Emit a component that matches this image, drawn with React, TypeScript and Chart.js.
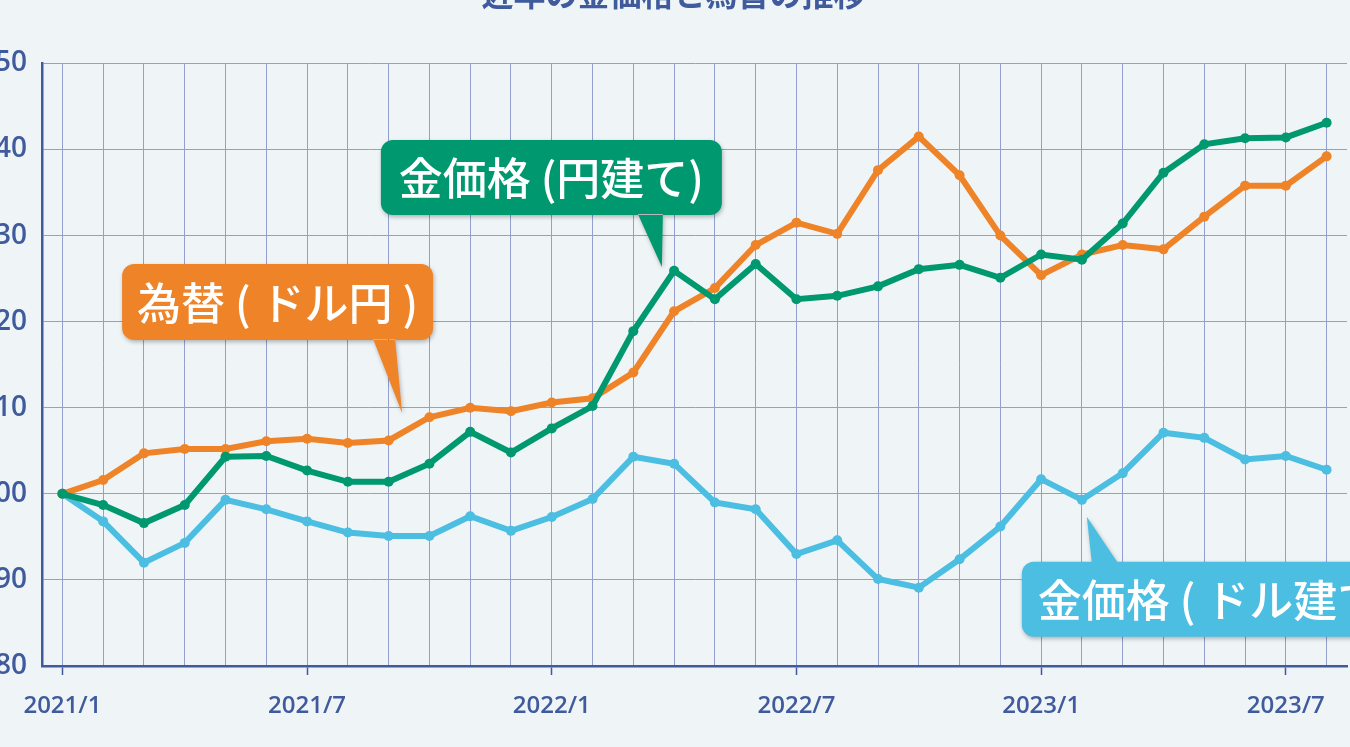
import { useEffect, useRef } from "react";
import { Chart, registerables } from "chart.js";

Chart.register(...registerables);

const months = [
  "2021/1", "2021/2", "2021/3", "2021/4", "2021/5", "2021/6", "2021/7", "2021/8",
  "2021/9", "2021/10", "2021/11", "2021/12", "2022/1", "2022/2", "2022/3", "2022/4",
  "2022/5", "2022/6", "2022/7", "2022/8", "2022/9", "2022/10", "2022/11", "2022/12",
  "2023/1", "2023/2", "2023/3", "2023/4", "2023/5", "2023/6", "2023/7", "2023/8",
];

const xTickLabels = ["2021/1", "2021/7", "2022/1", "2022/7", "2023/1", "2023/7"];
const yTicks = [80, 90, 100, 110, 120, 130, 140, 150];

// 金価格（円建て）
const goldYen = [
  100, 98.7, 96.6, 98.7, 104.3, 104.4, 102.7, 101.4, 101.4, 103.5, 107.2, 104.8,
  107.6, 110.2, 118.9, 125.9, 122.6, 126.7, 122.6, 123.0, 124.1, 126.1, 126.6, 125.1,
  127.8, 127.2, 131.4, 137.3, 140.6, 141.3, 141.4, 143.1,
];

// 為替（ドル円）
const usdJpy = [
  100, 101.6, 104.7, 105.2, 105.2, 106.1, 106.4, 105.9, 106.2, 108.9, 110.0, 109.6,
  110.6, 111.1, 114.1, 121.2, 123.9, 128.9, 131.5, 130.2, 137.6, 141.5, 137.0, 130.0,
  125.4, 127.8, 128.9, 128.4, 132.2, 135.8, 135.8, 139.2,
];

// 金価格（ドル建て）
const goldUsd = [
  100, 96.8, 92.0, 94.3, 99.3, 98.2, 96.8, 95.5, 95.1, 95.1, 97.4, 95.7,
  97.3, 99.4, 104.3, 103.5, 99.0, 98.2, 93.0, 94.6, 90.1, 89.1, 92.4, 96.2,
  101.7, 99.3, 102.4, 107.1, 106.5, 104.0, 104.4, 102.8,
];

const GREEN = "#00986f";
const ORANGE = "#ef8328";
const BLUE = "#4bbee1";
const NAVY = "#3f5a9d";
const GRID = "#939fcd";
const BG = "#eff4f7";

// callouts: tip anchored to (index, value), box offsets in px from the tip
const callouts = [
  {
    text: "為替 ( ドル円 )", color: ORANGE, idx: 8.33, val: 109.4,
    box: [-280, -149, 31, -73], tail: [-29, -7], align: "center",
  },
  {
    text: "金価格 (円建て)", color: GREEN, idx: 14.7, val: 126.35,
    box: [-281, -127, 60, -52], tail: [-24, 1], align: "center",
  },
  {
    text: "金価格 ( ドル建て )", color: BLUE, idx: 25.12, val: 97.33,
    box: [-65, 45, 360, 120], tail: [5, 31], align: "left",
  },
];

const calloutPlugin = {
  id: "callouts",
  afterDatasetsDraw(chart: any) {
    const { ctx, scales } = chart;
    callouts.forEach((c) => {
      const tx = scales.x.getPixelForValue(c.idx);
      const ty = scales.y.getPixelForValue(c.val);
      const l = tx + c.box[0];
      const t = ty + c.box[1];
      const r = tx + c.box[2];
      const b = ty + c.box[3];
      const below = c.box[1] > 0;
      const baseY = below ? t + 1 : b - 1;
      ctx.save();
      ctx.beginPath();
      ctx.roundRect(l, t, r - l, b - t, 12);
      ctx.moveTo(tx + c.tail[0], baseY);
      ctx.lineTo(tx, ty);
      ctx.lineTo(tx + c.tail[1], baseY);
      ctx.closePath();
      ctx.shadowColor = "rgba(0,0,0,0.28)";
      ctx.shadowBlur = 4;
      ctx.shadowOffsetX = 1;
      ctx.shadowOffsetY = 2;
      ctx.fillStyle = c.color;
      ctx.fill();
      ctx.shadowColor = "transparent";
      ctx.fillStyle = "#ffffff";
      ctx.font = '500 44px "Noto Sans CJK JP"';
      ctx.textBaseline = "middle";
      if (c.align === "left") {
        ctx.textAlign = "left";
        ctx.fillText(c.text, l + 16, (t + b) / 2 + 1);
      } else {
        ctx.textAlign = "center";
        ctx.fillText(c.text, (l + r) / 2, (t + b) / 2 + 1);
      }
      ctx.restore();
    });
  },
};

const line = (label: string, data: number[], color: string) => ({
  label,
  data,
  borderColor: color,
  backgroundColor: color,
  borderWidth: 6,
  pointRadius: 5,
  pointBorderWidth: 0,
  pointBackgroundColor: color,
  tension: 0,
});

const App = () => {
  const canvasRef = useRef<HTMLCanvasElement>(null);
  const chartInstance = useRef<Chart | null>(null);

  useEffect(() => {
    document.body.style.margin = "0";
    document.body.style.background = BG;
    if (!canvasRef.current) return;
    const ctx = canvasRef.current.getContext("2d");
    if (!ctx) return;

    chartInstance.current = new Chart(ctx, {
      type: "line",
      data: {
        labels: months,
        datasets: [
          line("金価格 (円建て)", goldYen, GREEN),
          line("為替 (ドル円)", usdJpy, ORANGE),
          line("金価格 (ドル建て)", goldUsd, BLUE),
        ],
      },
      options: {
        responsive: false,
        animation: false,
        layout: { padding: { left: 60, right: 53, top: 0, bottom: 0 } },
        plugins: {
          legend: { display: false },
          tooltip: { enabled: false },
          title: {
            display: true,
            text: "近年の金価格と為替の推移",
            color: NAVY,
            font: { family: "Noto Sans CJK JP", size: 32, weight: "bold" },
            padding: { top: 15, bottom: 50 },
          },
        },
        scales: {
          x: {
            type: "category",
            offset: true,
            grid: {
              offset: false,
              color: GRID,
              lineWidth: 1,
              drawTicks: true,
              tickLength: 9,
              tickWidth: 1.5,
              tickColor: (c: any) =>
                xTickLabels.includes(months[c.index]) ? NAVY : "transparent",
            },
            border: { color: NAVY, width: 2.5 },
            ticks: {
              autoSkip: false,
              maxRotation: 0,
              padding: 17,
              color: NAVY,
              font: { family: "Open Sans", size: 24, weight: "600" },
              callback: (_v: any, i: number) =>
                xTickLabels.includes(months[i]) ? months[i] : "",
            },
            afterFit: (s: any) => {
              s.height = 81;
            },
          },
          y: {
            min: 80,
            max: 150,
            afterBuildTicks: (s: any) => {
              s.ticks = yTicks.map((v) => ({ value: v }));
            },
            grid: { color: GRID, lineWidth: 1, drawTicks: false },
            border: { color: NAVY, width: 2.5 },
            ticks: {
              padding: 15,
              color: NAVY,
              font: { family: "Open Sans", size: 28, weight: "600" },
            },
            afterFit: (s: any) => {
              s.width = 42;
            },
          },
        },
      },
      plugins: [calloutPlugin],
    });

    return () => {
      if (chartInstance.current) {
        chartInstance.current.destroy();
        chartInstance.current = null;
      }
    };
  }, []);

  return (
    <div
      style={{
        position: "relative",
        width: 1350,
        height: 747,
        overflow: "hidden",
        background: BG,
      }}
    >
      <canvas
        ref={canvasRef}
        width={1460}
        height={787}
        style={{ position: "absolute", left: -60, top: -40, width: 1460, height: 787 }}
      />
    </div>
  );
};

export default App;
